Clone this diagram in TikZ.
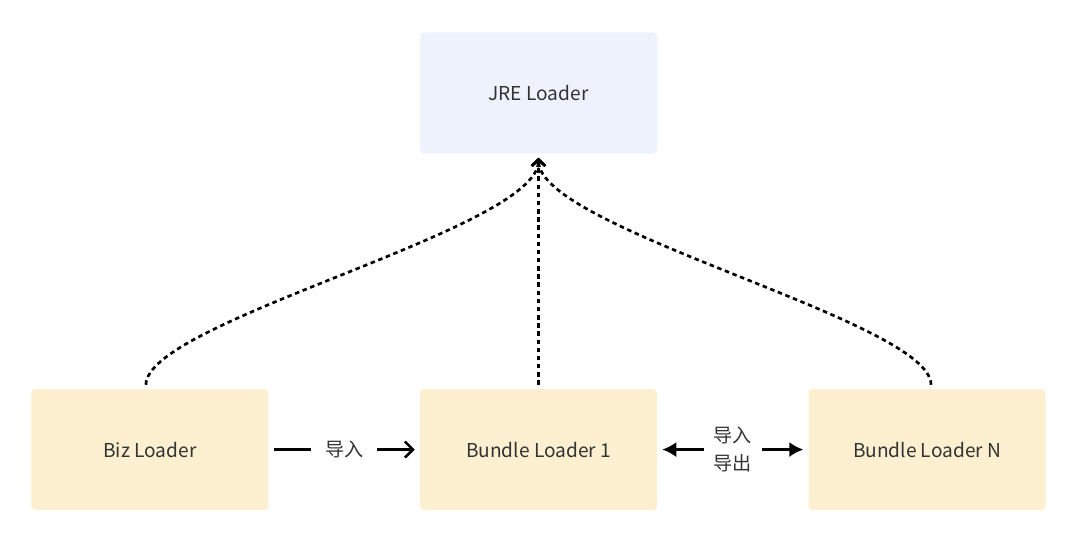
\documentclass[tikz,border=0pt]{standalone}
\usepackage{fontspec}
\setmainfont{Noto Sans CJK SC}
\usepackage{xcolor}
\usetikzlibrary{positioning,arrows.meta}

\definecolor{jrefill}{HTML}{EEF2FC}
\definecolor{ldrfill}{HTML}{FDF0D0}
\definecolor{txt}{HTML}{333333}

\begin{document}
\begin{tikzpicture}[
    box/.style={fill=ldrfill,text=txt,rounded corners=1mm,align=center,minimum width=59.25mm,minimum height=30.25mm,font=\fontsize{13.6}{16}\selectfont},
    dep/.style={draw,line width=1.9pt,dash pattern=on 3.2pt off 2.6pt,-{Straight Barb[length=1.6mm,width=3.4mm]}},
    imp/.style={draw,line width=1.8pt,-{Straight Barb[length=2mm,width=4mm]},shorten <=1.25mm,shorten >=1.25mm},
    both/.style={draw,line width=1.8pt,{Latex[length=3.5mm,width=3.8mm]}-{Latex[length=3.5mm,width=3.8mm]},shorten <=1.25mm,shorten >=1.25mm},
    lbl/.style={fill=white,text=txt,inner ysep=1pt,align=center,font=\fontsize{13.6}{20}\selectfont},
    node distance=37.75mm
  ]
    \useasboundingbox[fill=white] (-13.4625,2.325) rectangle (13.5375,-11.275);
    \node[box,fill=jrefill] (jre) {JRE Loader};
    \node[box,below=58.75mm of jre] (bundle1) {Bundle Loader 1};
    \node[box,left=of bundle1] (biz) {Biz Loader};
    \node[box,right=of bundle1] (bundleN) {Bundle Loader N};
    % import / export
    \draw[imp] (biz) -- node[lbl,inner xsep=3.4mm] {导入} (bundle1);
    \draw[both] (bundle1) -- node[lbl,inner xsep=2.4mm] {导入\\导出} (bundleN);
    % delegation to the JRE loader
    \draw[dep] ([xshift=-1mm,yshift=1mm]biz.north) .. controls +(0,1.6) and +(0,-1.8) .. ([yshift=-1mm]jre.south);
    \draw[dep] ([xshift=1mm,yshift=1mm]bundleN.north) .. controls +(0,1.6) and +(0,-1.8) .. ([yshift=-1mm]jre.south);
    \draw[dep] ([yshift=1mm]bundle1.north) -- ([yshift=-1mm]jre.south);
  \end{tikzpicture}
\end{document}
